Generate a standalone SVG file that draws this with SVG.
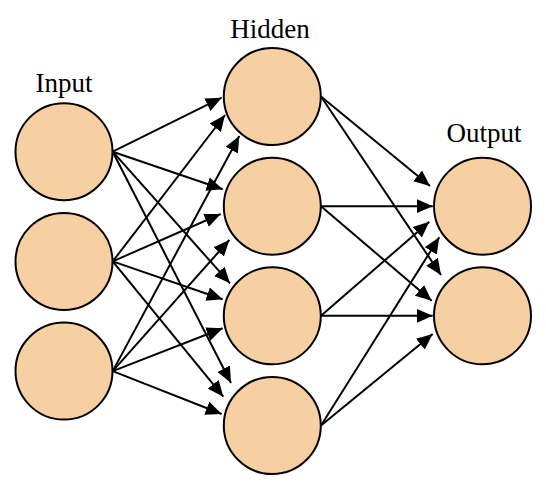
<svg xmlns="http://www.w3.org/2000/svg" width="546" height="492" viewBox="0 0 546 492">
<style>
.node{fill:#F6D0A2;stroke:#000;stroke-width:2}
.lbl{font-family:"Liberation Serif","Times New Roman",serif;font-size:27px;fill:#000;text-anchor:middle}
.edge{stroke:#000;stroke-width:2;fill:none;marker-end:url(#ah)}
</style>
<defs>
<marker id="ah" markerUnits="userSpaceOnUse" markerWidth="16" markerHeight="15" refX="16" refY="7.5" orient="auto" viewBox="0 0 16 15">
<path d="M0,0.5 L16,7.5 L0,14.5 z" fill="#000"/>
</marker>
</defs>
<g id="connectors">
<line class="edge" x1="112.7" y1="151.7" x2="221.7" y2="97.7"/>
<line class="edge" x1="112.7" y1="261.4" x2="225" y2="115"/>
<line class="edge" x1="112.7" y1="371.1" x2="239.3" y2="136"/>
<line class="edge" x1="112.7" y1="151.7" x2="222.7" y2="189.3"/>
<line class="edge" x1="112.7" y1="261.4" x2="220.7" y2="214"/>
<line class="edge" x1="112.7" y1="371.1" x2="229.3" y2="240"/>
<line class="edge" x1="112.7" y1="151.7" x2="230" y2="283.3"/>
<line class="edge" x1="112.7" y1="261.4" x2="222.7" y2="299.3"/>
<line class="edge" x1="112.7" y1="371.1" x2="222.7" y2="328.3"/>
<line class="edge" x1="112.7" y1="151.7" x2="231" y2="383"/>
<line class="edge" x1="112.7" y1="261.4" x2="223.3" y2="396.7"/>
<line class="edge" x1="112.7" y1="371.1" x2="221.7" y2="414"/>
<line class="edge" x1="321" y1="96.5" x2="430" y2="186"/>
<line class="edge" x1="321" y1="96.5" x2="441" y2="275"/>
<line class="edge" x1="321" y1="206.2" x2="432.7" y2="206.2"/>
<line class="edge" x1="321" y1="206.2" x2="431.7" y2="300.7"/>
<line class="edge" x1="321" y1="315.8" x2="429.3" y2="221.7"/>
<line class="edge" x1="321" y1="315.8" x2="432.7" y2="315.8"/>
<line class="edge" x1="321" y1="425.5" x2="439.3" y2="237.3"/>
<line class="edge" x1="321" y1="425.5" x2="432.7" y2="334"/>
</g>
<g id="input1"><circle class="node" cx="64" cy="151.7" r="48.5"/></g>
<g id="input2"><circle class="node" cx="64" cy="261.4" r="48.5"/></g>
<g id="input3"><circle class="node" cx="64" cy="371.1" r="48.5"/></g>
<g id="hidden1"><circle class="node" cx="272.3" cy="96.5" r="48.5"/></g>
<g id="hidden2"><circle class="node" cx="272.3" cy="206.2" r="48.5"/></g>
<g id="hidden3"><circle class="node" cx="272.3" cy="315.8" r="48.5"/></g>
<g id="hidden4"><circle class="node" cx="272.3" cy="425.5" r="48.5"/></g>
<g id="output1"><circle class="node" cx="482.5" cy="206.2" r="48.5"/></g>
<g id="output2"><circle class="node" cx="482.5" cy="315.8" r="48.5"/></g>
<g id="labels">
<text class="lbl" x="64" y="92">Input</text>
<text class="lbl" x="270" y="37.5">Hidden</text>
<text class="lbl" x="484" y="141.5">Output</text>
</g>
</svg>
